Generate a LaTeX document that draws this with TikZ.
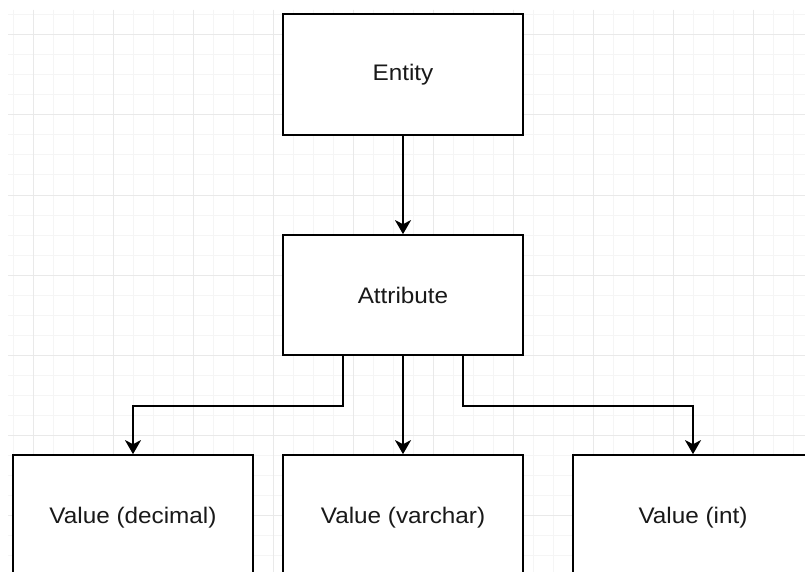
\documentclass[tikz,border=0pt]{standalone}
\usepackage{fontspec}
\setmainfont{Liberation Sans}
\newfontfamily\labelfont[FakeStretch=1.08]{Liberation Sans}
\usetikzlibrary{arrows.meta}
\begin{document}
\begin{tikzpicture}[x=1pt, y=-1pt,
  minorline/.style={draw=gray!8, line width=1pt},
  majorline/.style={draw=gray!17, line width=1pt},
  box/.style={draw=black, line width=1.7pt, fill=white,
    minimum width=240pt, minimum height=120pt, inner sep=0pt,
    font=\labelfont\fontsize{22.5}{27}\selectfont, text=black!90},
  link/.style={draw=black, line width=1.7pt,
    -{Stealth[length=14pt, width=16pt, inset=4pt]}}
]
\useasboundingbox (0,0) rectangle (805,572);
\clip (0,0) rectangle (805,572);
\fill[white] (0,0) rectangle (805,572);

% background grid
\foreach \x in {13,33,...,793} \draw[minorline] (\x,10) -- (\x,572);
\foreach \y in {15,35,...,555} \draw[minorline] (8,\y) -- (805,\y);
\foreach \x in {33,113,...,753} \draw[majorline] (\x,10) -- (\x,572);
\foreach \y in {35,115,...,515} \draw[majorline] (8,\y) -- (805,\y);

% boxes
\node[box, minimum height=121pt] (entity) at (403,74.5) {Entity};
\node[box] (attr) at (403,295) {Attribute};
\node[box, minimum height=126pt] (dec) at (133,518) {Value (decimal)};
\node[box, minimum height=126pt] (var) at (403,518) {Value (varchar)};
\node[box, minimum height=126pt] (int) at (693,518) {Value (int)};

% connectors
\draw[link] (entity.south) -- (attr.north);
\draw[link] (attr.south) -- (var.north);
\draw[link] ([xshift=-60pt]attr.south) -- ++(0,50) -| (dec.north);
\draw[link] ([xshift=60pt]attr.south) -- ++(0,50) -| (int.north);
\end{tikzpicture}
\end{document}
